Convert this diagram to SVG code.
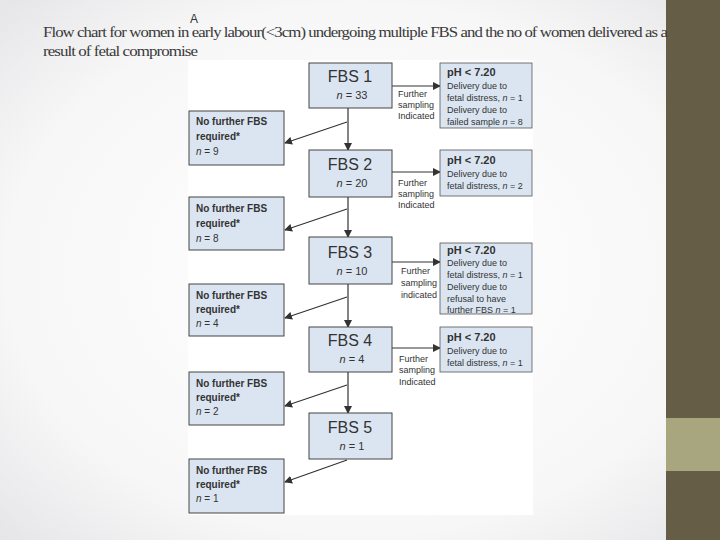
<svg xmlns="http://www.w3.org/2000/svg" width="720" height="540" viewBox="0 0 720 540">
<defs>
<radialGradient id="bg" cx="0.5" cy="0.5" r="0.7"><stop offset="0" stop-color="#ffffff"/><stop offset="0.7" stop-color="#f7f7f8"/><stop offset="1" stop-color="#e6e6e8"/></radialGradient>
<marker id="ah" markerWidth="8" markerHeight="8" refX="7" refY="4" orient="auto" markerUnits="userSpaceOnUse"><path d="M0,0 L8,4 L0,8 Z" fill="#333"/></marker>
<style>
.box{fill:#dbe5f1;stroke:#444;stroke-width:1}
.rbox{fill:#dbe5f1;stroke:#555;stroke-width:0.8}
.t{font-family:"Liberation Sans",Arial,sans-serif;fill:#333}
.big{font-size:16px}
.n{font-size:11px}
.s{font-size:9px}
.m{font-size:10px}
.b{font-weight:bold}
.ln{stroke:#333;stroke-width:1.2;fill:none;marker-end:url(#ah)}
.title{font-family:"Liberation Serif","Times New Roman",serif;font-size:14.5px;fill:#3a3a3a;letter-spacing:-0.8px}
</style>
</defs>
<rect width="720" height="540" fill="url(#bg)"/>
<rect x="666" y="0" width="54" height="540" fill="#655d45"/>
<rect x="666" y="418" width="54" height="53" fill="#a8a67e"/>
<rect x="188" y="60" width="345" height="455" fill="#ffffff"/>
<text class="title" x="43" y="37" textLength="624" lengthAdjust="spacingAndGlyphs">Flow chart for women in early labour(&lt;3cm) undergoing multiple FBS and the no of women delivered as a</text>
<text class="title" x="43" y="56" textLength="154" lengthAdjust="spacingAndGlyphs">result of fetal compromise</text>
<text class="t" x="190" y="23" font-size="12">A</text>

<g id="connectors">
<line class="ln" x1="348" y1="108" x2="348" y2="150"/>
<line class="ln" x1="348" y1="197" x2="348" y2="237"/>
<line class="ln" x1="348" y1="284" x2="348" y2="327"/>
<line class="ln" x1="348" y1="372" x2="348" y2="413"/>
<line class="ln" x1="392" y1="86" x2="440" y2="86"/>
<line class="ln" x1="392" y1="172" x2="440" y2="172"/>
<line class="ln" x1="392" y1="262" x2="440" y2="262"/>
<line class="ln" x1="392" y1="348" x2="440" y2="348"/>
<line class="ln" x1="347" y1="122" x2="285" y2="143"/>
<line class="ln" x1="347" y1="209" x2="285" y2="230"/>
<line class="ln" x1="347" y1="297" x2="285" y2="318"/>
<line class="ln" x1="347" y1="385" x2="285" y2="406"/>
<line class="ln" x1="347" y1="460" x2="285" y2="482"/>
<text class="t s" x="398" y="97">Further</text><text class="t s" x="398" y="108">sampling</text><text class="t s" x="398" y="119">Indicated</text>
<text class="t s" x="398" y="186">Further</text><text class="t s" x="398" y="197">sampling</text><text class="t s" x="398" y="208">Indicated</text>
<text class="t s" x="401" y="274">Further</text><text class="t s" x="401" y="286">sampling</text><text class="t s" x="401" y="298">indicated</text>
<text class="t s" x="399" y="362">Further</text><text class="t s" x="399" y="373">sampling</text><text class="t s" x="399" y="385">Indicated</text>
</g>

<g id="fbs1"><rect class="box" x="309" y="63" width="83" height="45"/><text class="t big" x="350" y="82" text-anchor="middle">FBS 1</text><text class="t n" x="352" y="99" text-anchor="middle"><tspan font-style="italic">n</tspan> = 33</text></g>
<g id="fbs2"><rect class="box" x="309" y="150" width="83" height="47"/><text class="t big" x="350" y="170" text-anchor="middle">FBS 2</text><text class="t n" x="352" y="187" text-anchor="middle"><tspan font-style="italic">n</tspan> = 20</text></g>
<g id="fbs3"><rect class="box" x="309" y="237" width="83" height="47"/><text class="t big" x="350" y="258" text-anchor="middle">FBS 3</text><text class="t n" x="352" y="275" text-anchor="middle"><tspan font-style="italic">n</tspan> = 10</text></g>
<g id="fbs4"><rect class="box" x="309" y="327" width="83" height="45"/><text class="t big" x="350" y="346" text-anchor="middle">FBS 4</text><text class="t n" x="352" y="363" text-anchor="middle"><tspan font-style="italic">n</tspan> = 4</text></g>
<g id="fbs5"><rect class="box" x="309" y="413" width="83" height="46"/><text class="t big" x="350" y="433" text-anchor="middle">FBS 5</text><text class="t n" x="352" y="450" text-anchor="middle"><tspan font-style="italic">n</tspan> = 1</text></g>

<g id="nf1"><rect class="box" x="189" y="111" width="95" height="54"/><text class="t m b" x="196" y="125">No further FBS</text><text class="t m b" x="196" y="140">required*</text><text class="t m" x="196" y="155"><tspan font-style="italic">n</tspan> = 9</text></g>
<g id="nf2"><rect class="box" x="189" y="197" width="95" height="53"/><text class="t m b" x="196" y="212">No further FBS</text><text class="t m b" x="196" y="227">required*</text><text class="t m" x="196" y="242"><tspan font-style="italic">n</tspan> = 8</text></g>
<g id="nf3"><rect class="box" x="189" y="284" width="95" height="52"/><text class="t m b" x="196" y="299">No further FBS</text><text class="t m b" x="196" y="313">required*</text><text class="t m" x="196" y="327"><tspan font-style="italic">n</tspan> = 4</text></g>
<g id="nf4"><rect class="box" x="189" y="372" width="95" height="53"/><text class="t m b" x="196" y="387">No further FBS</text><text class="t m b" x="196" y="401">required*</text><text class="t m" x="196" y="415"><tspan font-style="italic">n</tspan> = 2</text></g>
<g id="nf5"><rect class="box" x="189" y="459" width="95" height="54"/><text class="t m b" x="196" y="474">No further FBS</text><text class="t m b" x="196" y="488">required*</text><text class="t m" x="196" y="502"><tspan font-style="italic">n</tspan> = 1</text></g>

<g id="r1"><rect class="rbox" x="440" y="63" width="92" height="65"/><text class="t b" x="447" y="76" font-size="11">pH &lt; 7.20</text><text class="t s" x="447" y="89">Delivery due to</text><text class="t s" x="447" y="101">fetal distress, <tspan font-style="italic">n</tspan> = 1</text><text class="t s" x="447" y="113">Delivery due to</text><text class="t s" x="447" y="125">failed sample <tspan font-style="italic">n</tspan> = 8</text></g>
<g id="r2"><rect class="rbox" x="440" y="150" width="92" height="46"/><text class="t b" x="447" y="164" font-size="11">pH &lt; 7.20</text><text class="t s" x="447" y="177">Delivery due to</text><text class="t s" x="447" y="189">fetal distress, <tspan font-style="italic">n</tspan> = 2</text></g>
<g id="r3"><rect class="rbox" x="440" y="243" width="92" height="71"/><text class="t b" x="447" y="254" font-size="11">pH &lt; 7.20</text><text class="t s" x="447" y="266">Delivery due to</text><text class="t s" x="447" y="278">fetal distress, <tspan font-style="italic">n</tspan> = 1</text><text class="t s" x="447" y="290">Delivery due to</text><text class="t s" x="447" y="302">refusal to have</text><text class="t s" x="447" y="313">further FBS <tspan font-style="italic">n</tspan> = 1</text></g>
<g id="r4"><rect class="rbox" x="440" y="327" width="92" height="45"/><text class="t b" x="447" y="341" font-size="11">pH &lt; 7.20</text><text class="t s" x="447" y="354">Delivery due to</text><text class="t s" x="447" y="366">fetal distress, <tspan font-style="italic">n</tspan> = 1</text></g>
</svg>
